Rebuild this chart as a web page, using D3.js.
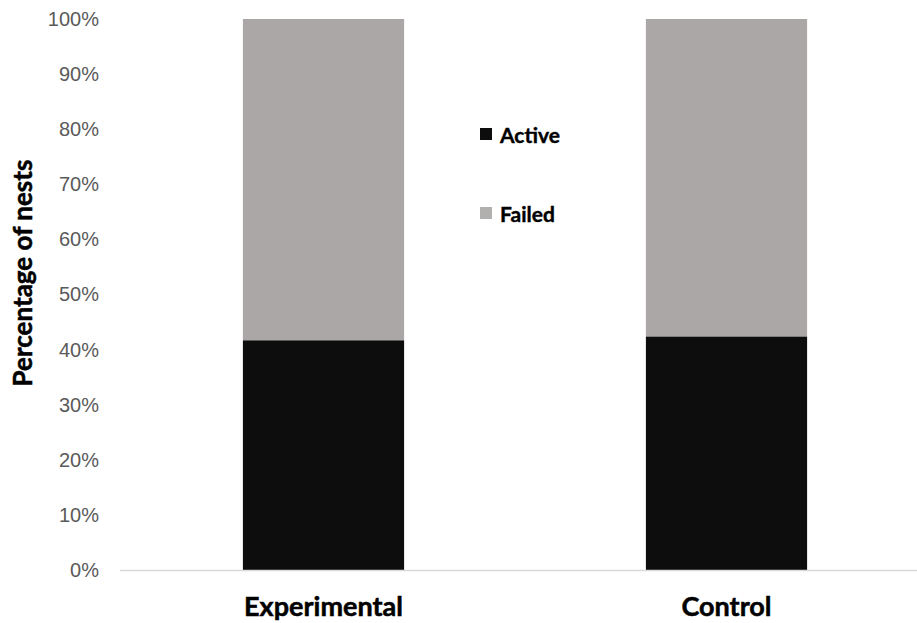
<!DOCTYPE html>
<html>
<head>
<meta charset="utf-8">
<script src="https://cdn.jsdelivr.net/npm/d3@7/dist/d3.min.js"></script>
<style>
  html, body { margin: 0; padding: 0; background: #ffffff; }
  svg { display: block; }
</style>
</head>
<body>
<svg id="chart" width="917" height="623"></svg>
<script>
// Nest outcome by treatment group (percent of nests)
const groups = ["Experimental", "Control"];
const seriesNames = ["Active", "Failed"];
const activePct = [41.7, 42.4];
const failedPct = [58.3, 57.6];
const yTicks = [0, 10, 20, 30, 40, 50, 60, 70, 80, 90, 100];
const seriesColors = ["#0d0d0d", "#aba7a6"];
const legendColors = ["#0d0d0d", "#b2b0af"];

const svg = d3.select("#chart");
const W = 917, H = 623;
const margin = { left: 122, right: 0, top: 19, bottom: 53 };
const boldFont = "Lato, 'Open Sans', sans-serif";

const rows = groups.map((g, i) => ({ group: g, Active: activePct[i], Failed: failedPct[i] }));
const stacked = d3.stack().keys(seriesNames)(rows);

const x = d3.scaleBand()
  .domain(groups)
  .range([margin.left, 928])
  .paddingInner(0.6)
  .paddingOuter(0.3);

const y = d3.scaleLinear()
  .domain([0, 100])
  .range([H - margin.bottom, margin.top]);

const color = d3.scaleOrdinal().domain(seriesNames).range(seriesColors);

// Stacked bars
svg.append("g")
  .selectAll("g")
  .data(stacked)
  .join("g")
  .attr("fill", d => color(d.key))
  .selectAll("rect")
  .data(d => d)
  .join("rect")
  .attr("x", d => x(d.data.group))
  .attr("width", x.bandwidth())
  .attr("y", d => y(d[1]))
  .attr("height", d => y(d[0]) - y(d[1]));

// Y axis labels (no axis line, no ticks)
const yAxis = d3.axisLeft(y)
  .tickValues(yTicks)
  .tickFormat(d => d + "%")
  .tickSize(0)
  .tickPadding(0);
const yg = svg.append("g")
  .attr("transform", `translate(99,0)`)
  .call(yAxis);
yg.select(".domain").remove();
yg.selectAll("text")
  .attr("font-family", "'Liberation Sans', Arial, sans-serif")
  .attr("font-size", 20)
  .attr("fill", "#5a5a5a");

// Baseline
svg.append("line")
  .attr("x1", 120)
  .attr("x2", W)
  .attr("y1", y(0) + 0.5)
  .attr("y2", y(0) + 0.5)
  .attr("stroke", "#d9d9d9")
  .attr("stroke-width", 1.5);

// Category labels
const xAxis = d3.axisBottom(x).tickSize(0).tickPadding(0);
const xg = svg.append("g")
  .attr("transform", `translate(0,${y(0)})`)
  .call(xAxis);
xg.select(".domain").remove();
xg.selectAll("text")
  .attr("dy", null)
  .attr("y", 46)
  .attr("font-family", boldFont)
  .attr("font-weight", "bold")
  .attr("font-size", 27)
  .attr("fill", "#000")
  .attr("stroke", "#000")
  .attr("stroke-width", 0.5);

// Y title
svg.append("text")
  .attr("transform", `translate(32,273) rotate(-90)`)
  .attr("text-anchor", "middle")
  .attr("font-family", boldFont)
  .attr("font-weight", "bold")
  .attr("font-size", 26)
  .attr("fill", "#000")
  .attr("stroke", "#000")
  .attr("stroke-width", 0.5)
  .text("Percentage of nests");

// Legend
const legend = svg.append("g");
const legendBaselines = [143, 222];
seriesNames.forEach((name, i) => {
  const g = legend.append("g").attr("transform", `translate(480,${legendBaselines[i]})`);
  g.append("rect")
    .attr("x", 0).attr("y", -15)
    .attr("width", 12).attr("height", 12)
    .attr("fill", legendColors[i]);
  g.append("text")
    .attr("x", 20).attr("y", 0)
    .attr("font-family", boldFont)
    .attr("font-weight", "bold")
    .attr("font-size", 21)
    .attr("fill", "#000")
    .attr("stroke", "#000")
    .attr("stroke-width", 0.4)
    .text(name);
});
</script>
</body>
</html>
